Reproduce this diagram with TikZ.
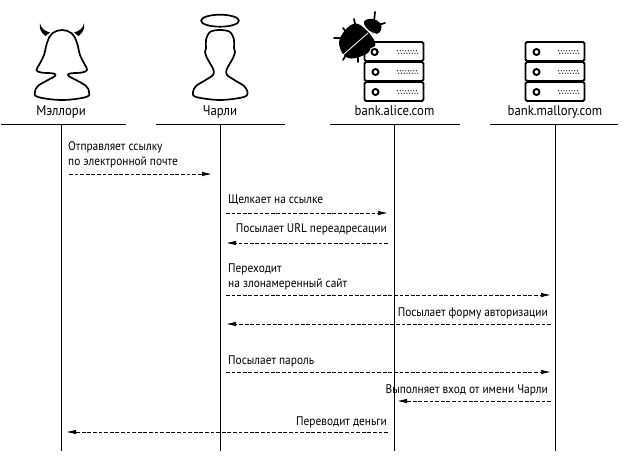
\documentclass[tikz,border=0pt]{standalone}
\usepackage{fontspec}
\setmainfont[FakeStretch=0.91]{PT Sans}
\usetikzlibrary{arrows.meta}
\tikzset{
  msg/.style={dash pattern=on 3.8pt off 1.8pt, line width=0.9pt, -{Latex[length=10pt,width=4.5pt]}},
  life/.style={line width=0.9pt},
  rule/.style={line width=0.9pt},
  who/.style={inner sep=0pt, font=\fontsize{14}{16}\selectfont, anchor=base},
  txt/.style={inner sep=0pt, font=\fontsize{12.5}{15}\selectfont, align=left},
  outline/.style={line width=1.7pt, line join=round},
  rack/.pic={
    \draw [line width=1.9pt, fill=white, rounded corners=1.5pt] (0,0) rectangle (59,19);
    \draw [line width=1.9pt, fill=white] (11,10) circle (3pt);
    \foreach \i in {0,...,7} {
      \fill (33+\i*2.7,8.8) circle (0.65pt);
      \fill (34.3+\i*2.7,11.2) circle (0.65pt);
    }
  }
}
\begin{document}
\begin{tikzpicture}[x=1pt,y=-1pt]
  \useasboundingbox (0,0) rectangle (623,462);
  % people
  \draw [outline] plot [smooth cycle, tension=0.65] coordinates {
    (62,30) (72,33.5) (77,43) (80,55) (85,65) (87,70) (82,72.5) (70,73.5) (68.5,76) (76,80) (86,86)
    (89,92) (86,97) (62,100) (38,97) (35,92) (38,86) (48,80) (55,76) (53.5,73.5) (41,72.5) (36.5,70) (39,65)
    (44,55) (47,43) (52,33.5)};
  \fill (40,23.3) .. controls (41,28) and (44,31) .. (50,32.5) -- (45.5,36) .. controls (41,33) and (39,28) .. cycle;
  \fill (84,23.3) .. controls (83,28) and (80,31) .. (74,32.5) -- (78.5,36) .. controls (83,33) and (85,28) .. cycle;
  \draw [outline] (220,20.7) ellipse (19pt and 6pt);
  \draw [outline] plot [smooth cycle, tension=0.55] coordinates {
    (220,30) (230,32) (234,40) (234,48) (235,52) (233,58) (229,65) (226.5,70) (227,75) (236,81) (244,86)
    (247.5,92) (244,97) (220,100) (196,97) (193,92) (196,86) (204,81) (213,75) (213.5,70) (211,65) (207,58)
    (205,52) (206,48) (206,40) (210,32)};
  % servers
  \pic at (364.5,42) {rack};
  \pic at (364.5,62) {rack};
  \pic at (364.5,82) {rack};
  \pic at (525.5,42) {rack};
  \pic at (525.5,62) {rack};
  \pic at (525.5,82) {rack};
  % bug
  \draw [line width=1.7pt, line cap=round] (374,22) -- (375,12);
  \draw [line width=1.7pt, line cap=round] (378,25) -- (385,23);
  \draw [line width=1.7pt, line cap=round] (356,28) -- (354,19);
  \draw [line width=1.7pt, line cap=round] (347,33) -- (343,28);
  \draw [line width=1.7pt, line cap=round] (342,38) -- (334,38);
  \draw [line width=1.7pt, line cap=round] (358,55) -- (358,62);
  \draw [line width=1.7pt, line cap=round] (346,55) -- (343,60);
  \fill plot [smooth cycle, tension=0.7] coordinates {
    (341,36) (353,24) (364,28) (375,42) (371,50) (362,56) (348,58) (340,48)};
  \fill plot [smooth cycle, tension=0.8] coordinates {
    (364,22) (372,19) (380,23) (381,30) (376,34) (369,31)};
  \draw [white, line width=0.8pt] (343,55) -- (368,33);
  \draw [white, line width=0.9pt] (363,24) .. controls (365,29) and (370,33) .. (376,34);
  \draw [white, line width=1pt] (374.5,52) circle (4.8pt);
  \draw [line width=1.9pt, fill=white] (374.5,52) circle (3pt);
  % names
  \node [who] (mallory) at (61,116) {Мэллори};
  \node [who] (charlie) at (220,116) {Чарли};
  \node [who] (alice) at (394.5,116) {bank.alice.com};
  \node [who] (evil) at (555,116) {bank.mallory.com};
  % rules under the names
  \coordinate (ra1) at (1,124);
  \coordinate (ra2) at (126,124);
  \coordinate (rb1) at (156,124);
  \coordinate (rb2) at (285,124);
  \coordinate (rc1) at (330,124);
  \coordinate (rc2) at (460,124);
  \coordinate (rd1) at (490,124);
  \coordinate (rd2) at (618,124);
  \draw [rule] (ra1) -- (ra2);
  \draw [rule] (rb1) -- (rb2);
  \draw [rule] (rc1) -- (rc2);
  \draw [rule] (rd1) -- (rd2);
  % lifelines
  \coordinate (la1) at (61,124);
  \coordinate (la2) at (61,451);
  \coordinate (lb1) at (220,124);
  \coordinate (lb2) at (220,451);
  \coordinate (lc1) at (394,124);
  \coordinate (lc2) at (394,451);
  \coordinate (ld1) at (555,124);
  \coordinate (ld2) at (555,451);
  \draw [life] (la1) -- (la2);
  \draw [life] (lb1) -- (lb2);
  \draw [life] (lc1) -- (lc2);
  \draw [life] (ld1) -- (ld2);
  % messages
  \coordinate (m1a) at (69,174);
  \coordinate (m1b) at (212,174);
  \coordinate (m2a) at (226,213);
  \coordinate (m2b) at (388,213);
  \coordinate (m3a) at (388,243);
  \coordinate (m3b) at (226,243);
  \coordinate (m4a) at (226,295);
  \coordinate (m4b) at (551,295);
  \coordinate (m5a) at (551,324);
  \coordinate (m5b) at (226,324);
  \coordinate (m6a) at (226,372);
  \coordinate (m6b) at (551,372);
  \coordinate (m7a) at (551,401);
  \coordinate (m7b) at (397,401);
  \coordinate (m8a) at (388,432);
  \coordinate (m8b) at (66,432);
  \draw [msg] (m1a) -- (m1b);
  \draw [msg] (m2a) -- (m2b);
  \draw [msg] (m3a) -- (m3b);
  \draw [msg] (m4a) -- (m4b);
  \draw [msg] (m5a) -- (m5b);
  \draw [msg] (m6a) -- (m6b);
  \draw [msg] (m7a) -- (m7b);
  \draw [msg] (m8a) -- (m8b);
  % labels
  \node [txt, anchor=south west] (t1) at (68,168) {Отправляет ссылку\\по электронной почте};
  \node [txt, anchor=base west] (t2) at (228,204) {Щелкает на ссылке};
  \node [txt, anchor=base east] (t3) at (387,233) {Посылает URL переадресации};
  \node [txt, anchor=south west] (t4) at (228,290) {Переходит\\на злонамеренный сайт};
  \node [txt, anchor=base east] (t5) at (548,316) {Посылает форму авторизации};
  \node [txt, anchor=base west] (t6) at (228,364) {Посылает пароль};
  \node [txt, anchor=base east] (t7) at (548,393) {Выполняет вход от имени Чарли};
  \node [txt, anchor=base east] (t8) at (387,425) {Переводит деньги};
\end{tikzpicture}
\end{document}
